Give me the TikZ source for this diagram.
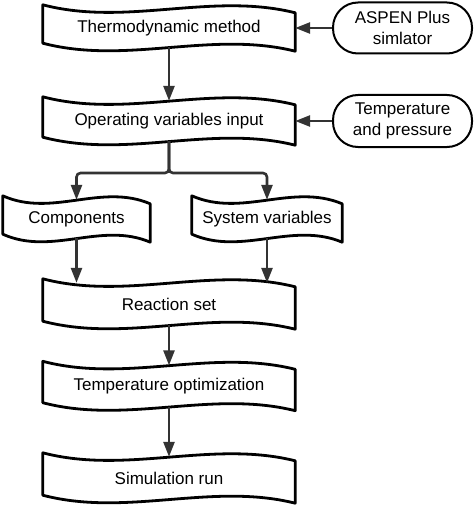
\documentclass[tikz,border=0pt]{standalone}
\usepackage{fontspec}
\setmainfont{Liberation Sans}
\usetikzlibrary{arrows.meta}

\definecolor{arrowgray}{HTML}{333333}

\tikzset{
  docbox/.style={minimum height=40pt, inner sep=0pt, font=\fontsize{17}{20.5}\selectfont},
  boxline/.style={line width=2.8pt, line join=round},
  source/.style={draw, line width=2pt, rounded corners=25pt, minimum width=139pt,
    minimum height=51pt, align=center, font=\fontsize{17}{20.5}\selectfont},
  flow/.style={line width=2.6pt, draw=arrowgray, rounded corners=4pt,
    -{Triangle[length=15pt,width=11pt,fill=arrowgray]}}
}

% wavy outline round a node, #2 = one third of its width
\newcommand{\drawwave}[2]{
  \draw[boxline] ([yshift=4pt]#1.north west) .. controls +(#2,22) and +(-#2,-21) .. ([yshift=-4pt]#1.north east)
    -- ([yshift=-4pt]#1.south east) .. controls +(-#2,-21) and +(#2,22) .. ([yshift=4pt]#1.south west) -- cycle;
}

\begin{document}
\begin{tikzpicture}[x=1pt,y=-1pt]
  \useasboundingbox (0,0) rectangle (474,508);

  % main column
  \node[docbox, minimum width=252pt, minimum height=38pt] (thermo) at (169,28) {Thermodynamic method};
  \node[docbox, minimum width=252pt] (oper) at (169,121) {Operating variables input};
  \node[docbox, minimum width=147pt, minimum height=38pt] (comp) at (76.5,219) {Components};
  \node[docbox, minimum width=150pt, minimum height=38pt] (sysv) at (267,219) {System variables};
  \node[docbox, minimum width=252pt, minimum height=42pt] (react) at (169,304) {Reaction set};
  \node[docbox, minimum width=252pt, minimum height=41pt] (tempopt) at (169,386) {Temperature optimization};
  \node[docbox, minimum width=252pt, minimum height=42pt] (simrun) at (169,478) {Simulation run};

  % outlines
  \drawwave{thermo}{84}
  \drawwave{oper}{84}
  \drawwave{comp}{49}
  \drawwave{sysv}{50}
  \drawwave{react}{84}
  \drawwave{tempopt}{84}
  \drawwave{simrun}{84}

  % inputs on the right
  \node[source] (aspen) at (402.5,28) {ASPEN Plus\\simlator};
  \node[source, minimum height=52pt] (tp) at (402.5,121) {Temperature\\and pressure};

  % connecting lines
  \coordinate (split) at (169,173);
  \draw[flow] (aspen.west) -- (thermo.east);
  \draw[flow] (tp.west) -- (oper.east);
  \draw[flow] (thermo.south) -- (oper.north);
  \draw[flow] (oper.south) -- (split) -| (comp.north);
  \draw[flow] (oper.south) -- (split) -| (sysv.north);
  \draw[flow] (comp.south) -- (comp.south |- react.north);
  \draw[flow] (sysv.south) -- (sysv.south |- react.north);
  \draw[flow] (react.south) -- (tempopt.north);
  \draw[flow] (tempopt.south) -- (simrun.north);

\end{tikzpicture}
\end{document}
